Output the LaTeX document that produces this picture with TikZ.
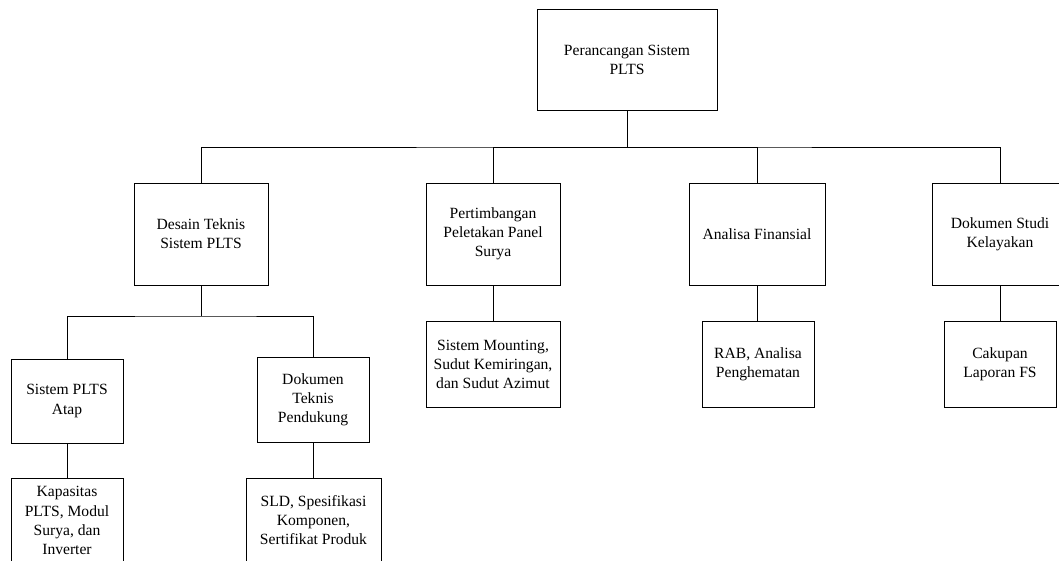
\documentclass[tikz,border=0pt]{standalone}
\usepackage{fontspec}
\setmainfont{Liberation Serif}
\begin{document}
\begin{tikzpicture}[x=0.75pt,y=-0.75pt,
  bx/.style={draw, line width=0.6pt, align=center, inner sep=0pt,
    font=\fontsize{11.7}{14.3}\selectfont},
  wire/.style={line width=0.6pt}]
\clip (0,0) rectangle (1059,560);
\fill[white] (0,0) rectangle (1059,560);
% level 0
\node[bx, minimum width=135pt, minimum height=75.75pt] (root) at (627,59.5) {Perancangan Sistem\\PLTS};
% level 1
\node[bx, minimum width=100.5pt, minimum height=76.5pt] (desain) at (201,234) {Desain Teknis\\Sistem PLTS};
\node[bx, minimum width=100.5pt, minimum height=76.5pt] (pert) at (493,234) {Pertimbangan\\Peletakan Panel\\Surya};
\node[bx, minimum width=102pt, minimum height=76.5pt] (anal) at (757,234) {Analisa Finansial};
\node[bx, minimum width=102pt, minimum height=76.5pt] (dstudi) at (1000,234) {Dokumen Studi\\Kelayakan};
% level 2 (right)
\node[bx, minimum width=100.5pt, minimum height=64.5pt] (mount) at (493,364) {Sistem Mounting,\\Sudut Kemiringan,\\dan Sudut Azimut};
\node[bx, minimum width=84pt, minimum height=64.5pt] (rab) at (758,364) {RAB, Analisa\\Penghematan};
\node[bx, minimum width=84pt, minimum height=64.5pt] (cak) at (1000,364) {Cakupan\\Laporan FS};
% level 2 (left)
\node[bx, minimum width=84pt, minimum height=63pt] (atap) at (67,401) {Sistem PLTS\\Atap};
\node[bx, minimum width=84pt, minimum height=63.75pt] (dtek) at (313,399.5) {Dokumen\\Teknis\\Pendukung};
% level 3
\node[bx, minimum width=84pt, minimum height=63.75pt] (kap) at (67,520.5) {Kapasitas\\PLTS, Modul\\Surya, dan\\Inverter};
\node[bx, minimum width=101.25pt, minimum height=63.75pt] (sld) at (313.5,520.5) {SLD, Spesifikasi\\Komponen,\\Sertifikat Produk};
% connectors
\coordinate (busA) at (627,147);
\coordinate (busB) at (201,316);
\draw[wire] (root.south) -- (busA);
\draw[wire] (desain.north) |- (busA) -| (dstudi.north);
\draw[wire] (busA) -| (pert.north);
\draw[wire] (busA) -| (anal.north);
\draw[wire] (pert.south) -- (mount.north);
\draw[wire] (anal.south) -- (anal.south |- rab.north);
\draw[wire] (dstudi.south) -- (cak.north);
\draw[wire] (desain.south) -- (busB);
\draw[wire] (atap.north) |- (busB) -| (dtek.north);
\draw[wire] (atap.south) -- (kap.north);
\draw[wire] (dtek.south) -- (dtek.south |- sld.north);
\end{tikzpicture}
\end{document}
